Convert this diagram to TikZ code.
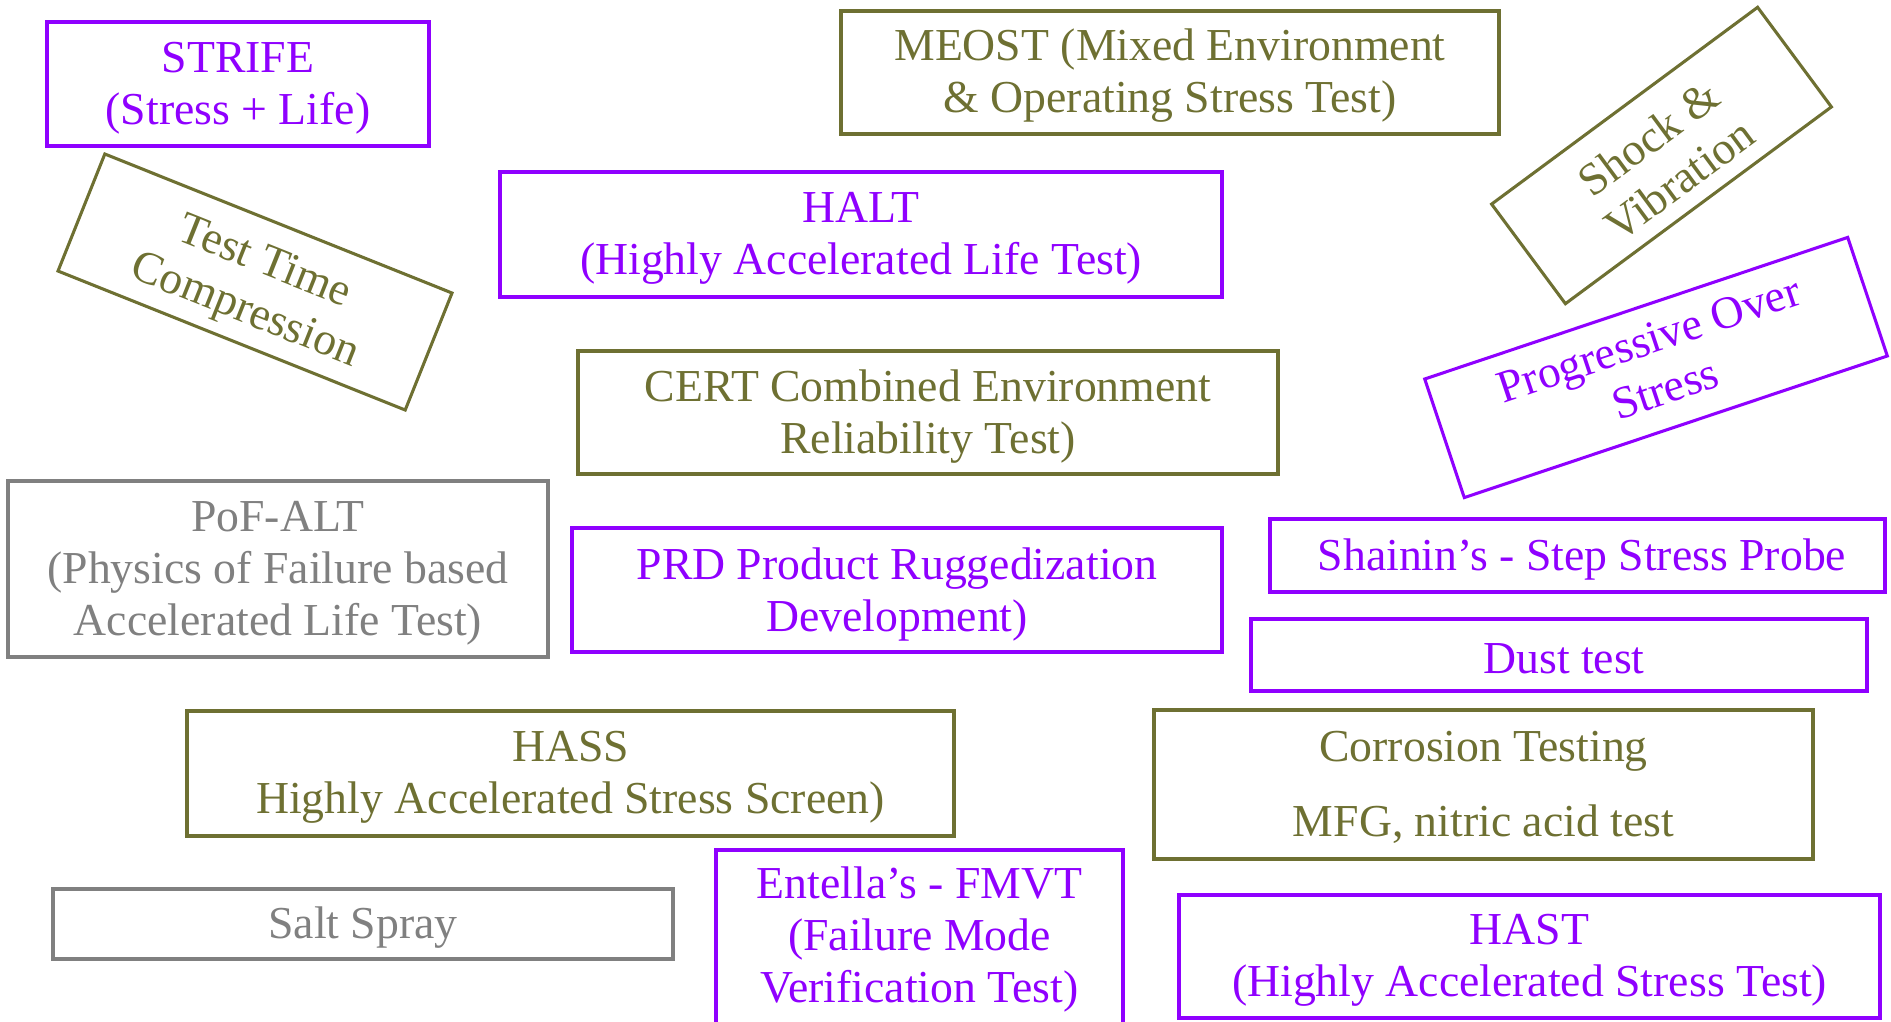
\documentclass[tikz,border=0pt]{standalone}
\usepackage{fontspec}
\setmainfont{Liberation Serif}

\begin{document}
\begin{tikzpicture}[x=0.75pt,y=0.75pt,yscale=-1,xscale=1,
  purplebox/.style={draw={rgb, 255:red, 143; green, 0; blue, 255 }, line width=2.3},
  olivebox/.style={draw={rgb, 255:red, 110; green, 112; blue, 50 }, line width=2.3},
  greybox/.style={draw={rgb, 255:red, 128; green, 128; blue, 128 }, line width=2.3},
  label/.style={font=\fontsize{34.3}{39}\selectfont, align=center, inner sep=0},
  purpletext/.style={label, text={rgb, 255:red, 143; green, 0; blue, 255 }},
  olivetext/.style={label, text={rgb, 255:red, 110; green, 112; blue, 50 }},
  greytext/.style={label, text={rgb, 255:red, 128; green, 128; blue, 128 }}]
%set diagram left start at 0, and has height of 1021
\useasboundingbox (0,0) rectangle (1891,1021);

%Shape: Rectangle
\draw [purplebox] (47,22) rectangle (429,146) ;
%Shape: Rectangle
\draw [olivebox] (841,11) rectangle (1499,134) ;
%Shape: Polygon
\draw [olivebox] (1565.4,303.7) -- (1491.6,204.1) -- (1757.6,7.3) -- (1831.4,106.9) -- cycle ;
%Shape: Polygon
\draw [olivebox] (104.8,154) -- (452,293) -- (405.2,410) -- (58,271) -- cycle ;
%Shape: Rectangle
\draw [purplebox] (500,172) rectangle (1222,297) ;
%Shape: Polygon
\draw [purplebox] (1464.3,497.6) -- (1424.7,379) -- (1847.7,237.4) -- (1887.3,356) -- cycle ;
%Shape: Rectangle
\draw [olivebox] (578,351) rectangle (1278,474) ;
%Shape: Rectangle
\draw [greybox] (8,481) rectangle (548,657) ;
%Shape: Rectangle
\draw [purplebox] (572,528) rectangle (1222,652) ;
%Shape: Rectangle
\draw [purplebox] (1270,519) rectangle (1885,592) ;
%Shape: Rectangle
\draw [purplebox] (1251,619) rectangle (1867,691) ;
%Shape: Rectangle
\draw [olivebox] (187,711) rectangle (954,836) ;
%Shape: Rectangle
\draw [olivebox] (1154,710) rectangle (1813,859) ;
%Shape: Rectangle
\draw [greybox] (53,889) rectangle (673,959) ;
%Shape: Rectangle
\draw [purplebox] (716,850) rectangle (1123,1030) ;
%Shape: Rectangle
\draw [purplebox] (1179,895) rectangle (1880,1018) ;

% Text Node
\draw (238,88) node (strife) [purpletext] {STRIFE\\(Stress + Life)};
% Text Node
\draw (1170,76) node (meost) [olivetext] {MEOST (Mixed Environment\\\& Operating Stress Test)};
% Text Node
\draw (1664,159) node (shock) [olivetext, rotate=36.5] {Shock \&\\Vibration};
% Text Node
\draw (254,288) node (ttc) [olivetext, rotate=-21.8] {Test Time\\Compression};
% Text Node
\draw (1657,364) node (pos) [purpletext, rotate=18.5] {Progressive Over\\Stress};
% Text Node
\draw (861,238.5) node (halt) [purpletext] {HALT\\(Highly Accelerated Life Test)};
% Text Node
\draw (928,416.5) node (cert) [olivetext] {CERT Combined Environment\\Reliability Test)};
% Text Node
\draw (278,573) node (pofalt) [greytext] {PoF-ALT\\(Physics of Failure based\\Accelerated Life Test)};
% Text Node
\draw (897,594) node (prd) [purpletext] {PRD Product Ruggedization\\Development)};
% Text Node
\draw (1582,559.5) node (shainin) [purpletext] {Shainin’s - Step Stress Probe};
% Text Node
\draw (1564,659) node (dust) [purpletext] {Dust test};
% Text Node
\draw (570.5,777.5) node (hass) [olivetext] {HASS\\Highly Accelerated Stress Screen)};
% Text Node
\draw (1483.5,787.5) node (corrosion) [olivetext] {Corrosion Testing\\[17pt]MFG, nitric acid test};
% Text Node
\draw (363,928) node (salt) [greytext] {Salt Spray};
% Text Node
\draw (919.5,939) node (entella) [purpletext] {Entella’s - FMVT\\(Failure Mode\\Verification Test)};
% Text Node
\draw (1529.5,960.5) node (hast) [purpletext] {HAST\\(Highly Accelerated Stress Test)};

\end{tikzpicture}
\end{document}
